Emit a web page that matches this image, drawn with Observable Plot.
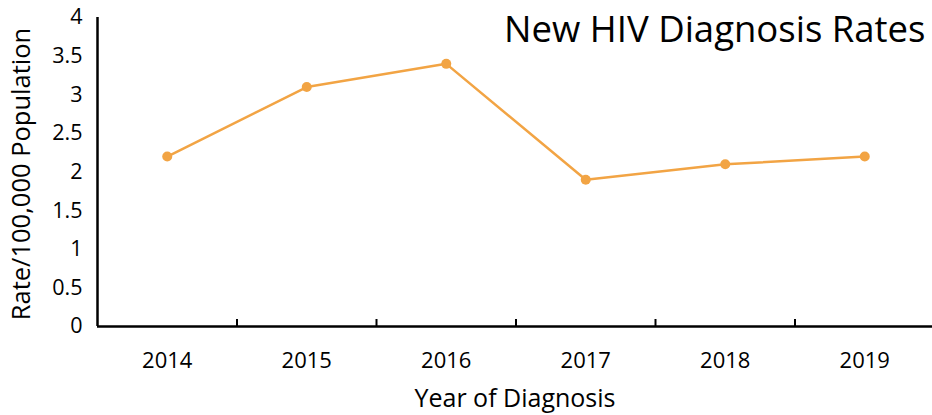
<!DOCTYPE html>
<html>
<head>
<meta charset="utf-8">
<script src="https://cdn.jsdelivr.net/npm/d3@7"></script>
<script src="https://cdn.jsdelivr.net/npm/@observablehq/plot@0.6"></script>
<style>
  html, body { margin: 0; padding: 0; background: #fff; }
  #chart { position: relative; width: 932px; height: 415px; overflow: hidden; }
  svg { overflow: visible; }
</style>
</head>
<body>
<div id="chart"></div>
<script>
const years = [2014, 2015, 2016, 2017, 2018, 2019];
const rates = [2.2, 3.1, 3.4, 1.9, 2.1, 2.2];
const yTicks = [0, 0.5, 1, 1.5, 2, 2.5, 3, 3.5, 4];
const title = "New HIV Diagnosis Rates";
const xLabel = "Year of Diagnosis";
const yLabel = "Rate/100,000 Population";

const data = years.map((y, i) => ({year: y, rate: rates[i]}));
const boundaries = years.slice(0, -1).map(y => y + 0.5);
const font = "'Open Sans', sans-serif";
const orange = "#F2A444";

const plot = Plot.plot({
  width: 932,
  height: 415,
  marginLeft: 97,
  marginTop: 17,
  marginBottom: 89,
  marginRight: 0,
  style: {fontFamily: font, color: "#000", background: "#fff", overflow: "visible"},
  x: {domain: [years[0] - 0.5, years[years.length - 1] + 0.5], range: [97, 934]},
  y: {domain: [0, 4]},
  marks: [
    Plot.axisY({ticks: yTicks, tickSize: 0, tickPadding: 15, fontSize: 21.5, label: null, tickFormat: d => String(d)}),
    Plot.axisX({ticks: years, tickSize: 0, tickPadding: 26, fontSize: 22, label: null, tickFormat: d => String(d)}),
    Plot.ruleX(boundaries, {y1: 0, y2: 0, insetTop: -7, stroke: "#000", strokeWidth: 2}),
    Plot.ruleY([0], {x1: years[0] - 0.5, x2: years[years.length - 1] + 0.5, stroke: "#000", strokeWidth: 2.5}),
    Plot.ruleX([years[0] - 0.5], {y1: 0, y2: 4, stroke: "#000", strokeWidth: 2.5}),
    Plot.line(data, {x: "year", y: "rate", stroke: orange, strokeWidth: 2.5}),
    Plot.dot(data, {x: "year", y: "rate", fill: orange, r: 5}),
    Plot.text([title], {frameAnchor: "top-right", dx: -7, dy: -1, text: d => d, fontSize: 36.5, textAnchor: "end", lineAnchor: "top", fill: "#000"}),
    Plot.text([xLabel], {frameAnchor: "bottom", dy: 80, text: d => d, fontSize: 25, lineAnchor: "bottom", fill: "#000"}),
    Plot.text([yLabel], {frameAnchor: "left", dx: -76, dy: 2, text: d => d, fontSize: 25.5, rotate: -90, textAnchor: "middle", fill: "#000"})
  ]
});
document.getElementById("chart").appendChild(plot);
</script>
</body>
</html>
